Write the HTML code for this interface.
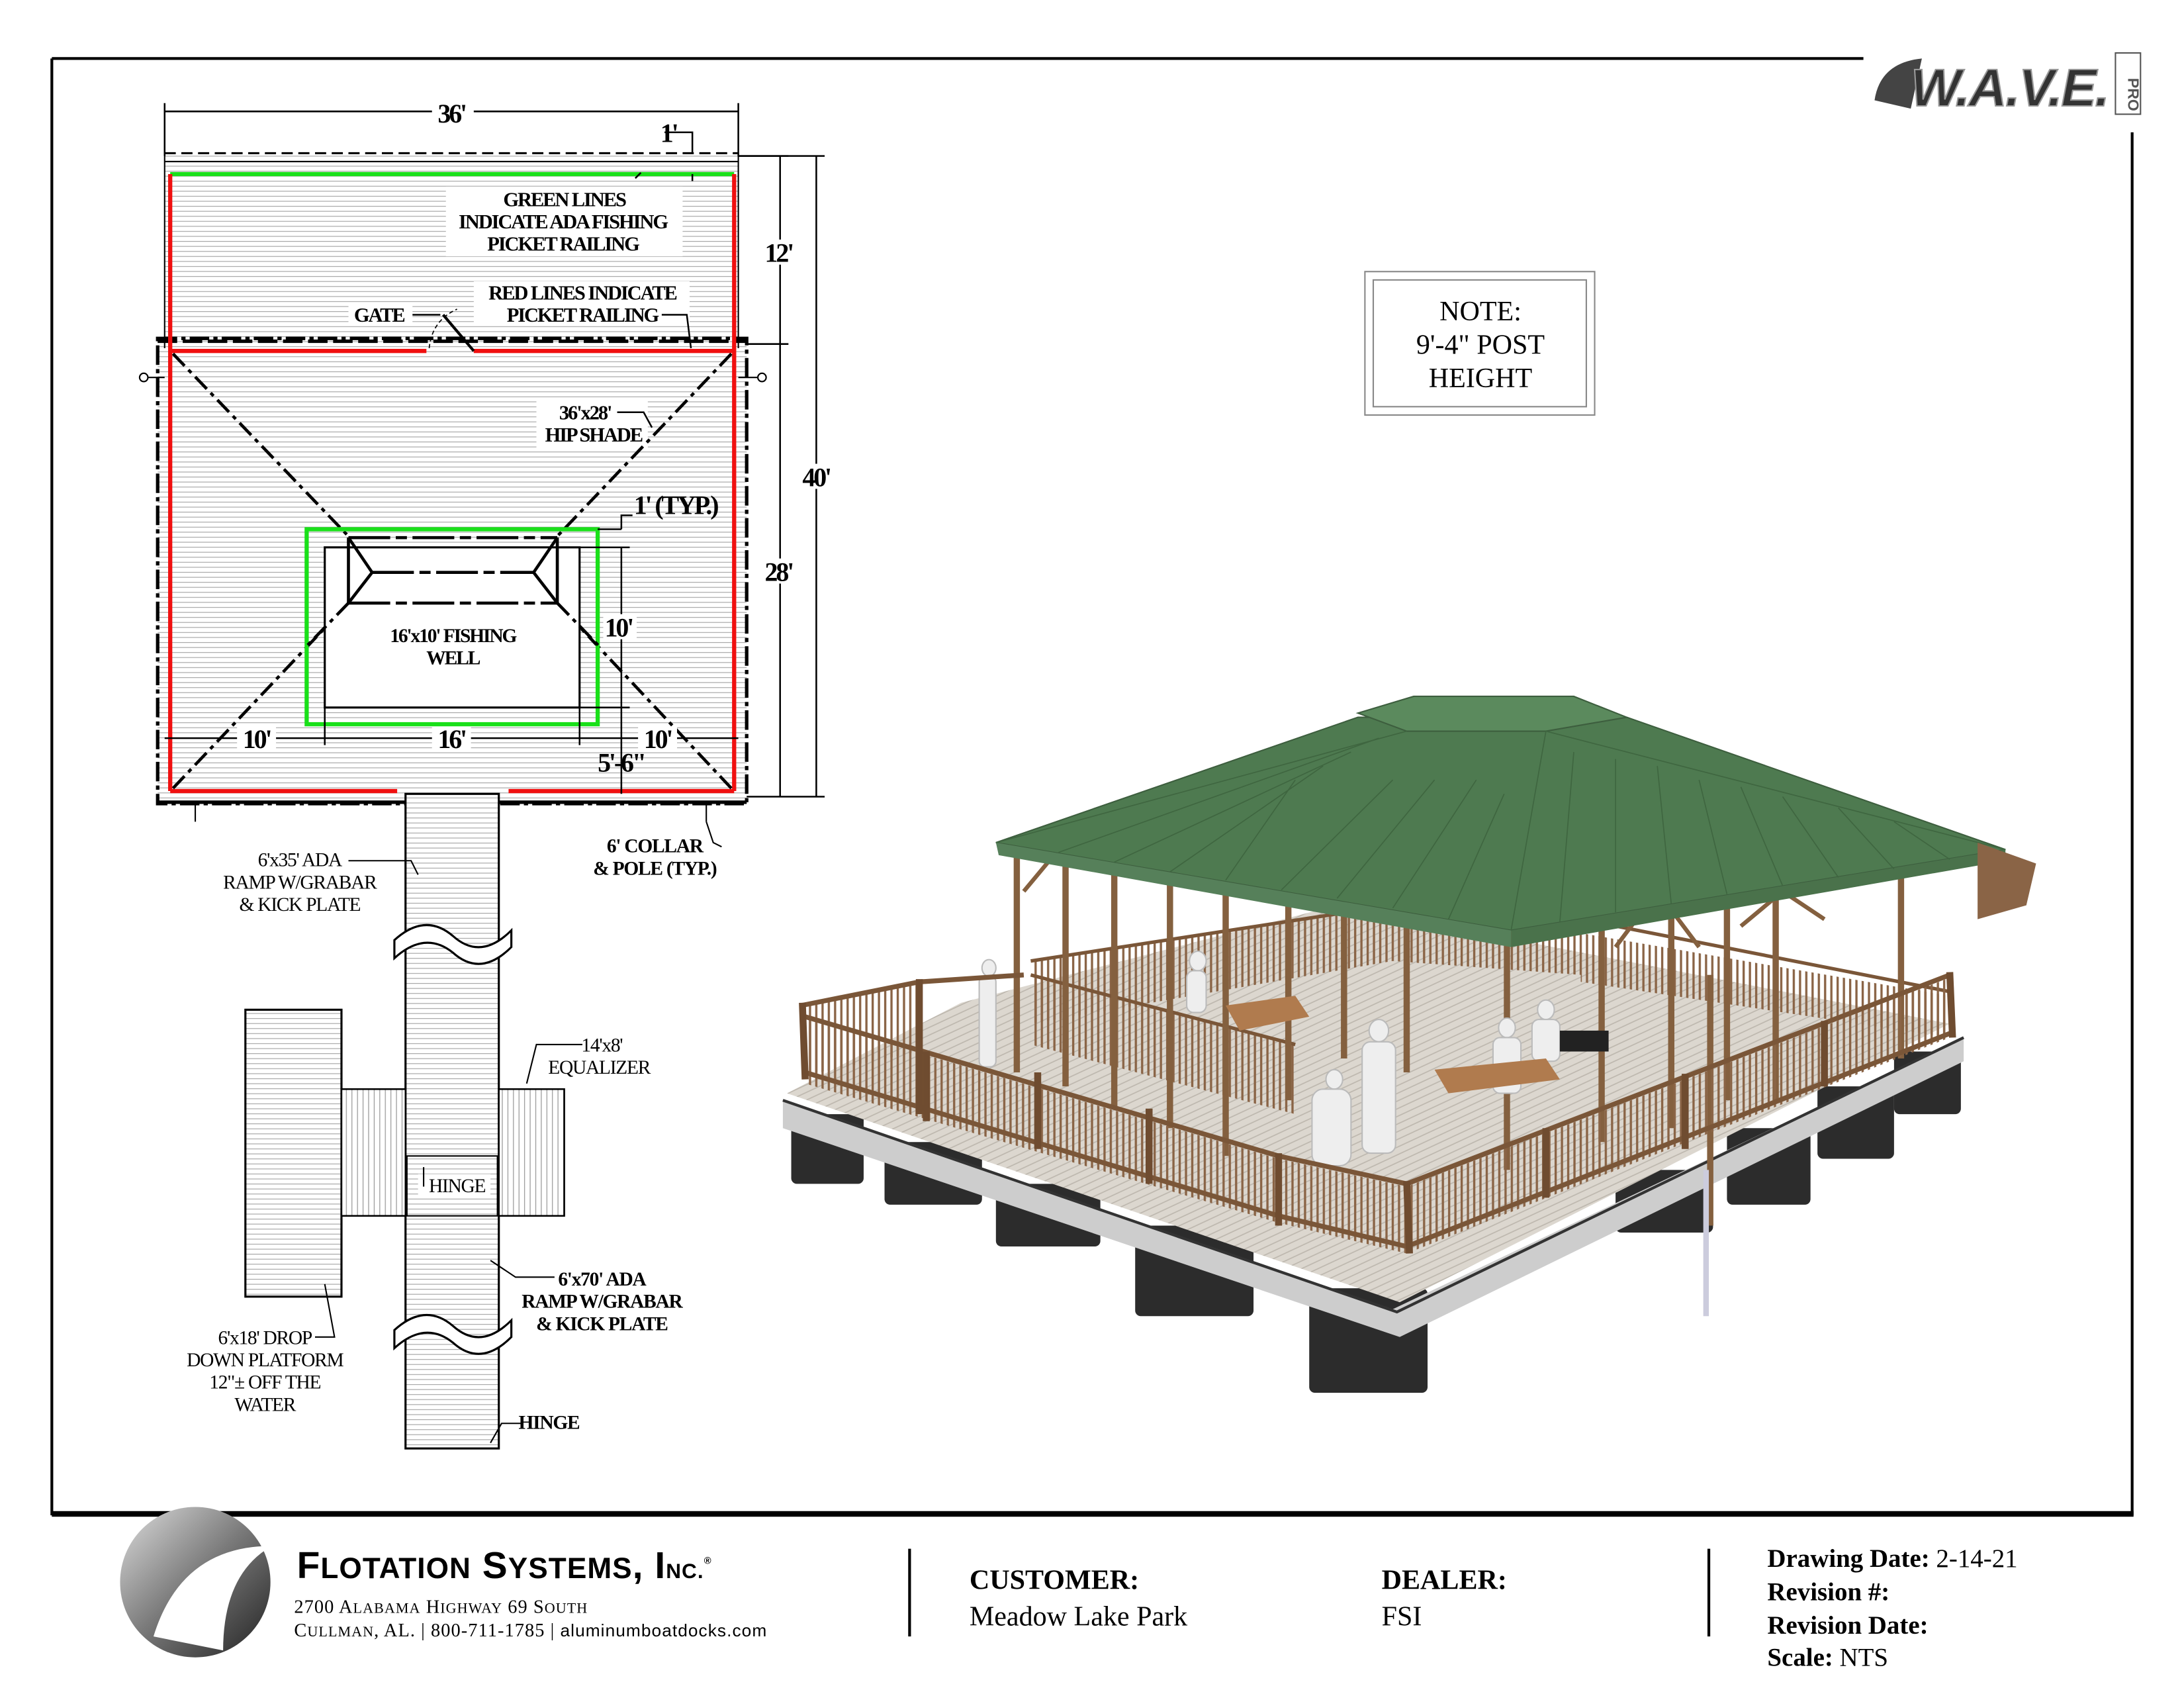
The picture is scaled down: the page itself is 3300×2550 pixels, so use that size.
<!DOCTYPE html>
<html><head><meta charset="utf-8"><style>
html,body{margin:0;padding:0;background:#fff}
svg{display:block}
text{font-family:"Liberation Serif",serif}
.b{font-weight:bold}
</style></head><body>
<svg width="3300" height="2550" viewBox="0 0 1568 1212" xmlns="http://www.w3.org/2000/svg">
<defs>
<pattern id="h" width="8" height="3.6" patternUnits="userSpaceOnUse"><rect width="8" height="3.6" fill="#fff"/><line x1="0" y1="0.5" x2="8" y2="0.5" stroke="#a8a8a8" stroke-width="0.6"/></pattern>
<pattern id="dk" width="8" height="5" patternUnits="userSpaceOnUse" patternTransform="rotate(-25)"><rect width="8" height="5" fill="#dcd7cf"/><line x1="0" y1="0.5" x2="8" y2="0.5" stroke="#bdb7ae" stroke-width="0.8"/></pattern>
<pattern id="vh" width="4" height="8" patternUnits="userSpaceOnUse"><rect width="4" height="8" fill="#fff"/><line x1="0.5" y1="0" x2="0.5" y2="8" stroke="#999" stroke-width="0.6"/></pattern>
<pattern id="rl" width="4.5" height="10" patternUnits="userSpaceOnUse"><line x1="1" y1="0" x2="1" y2="10" stroke="#8a6446" stroke-width="1.6"/></pattern>
<linearGradient id="lg" x1="0" y1="0" x2="1" y2="1"><stop offset="0" stop-color="#ddd"/><stop offset="0.5" stop-color="#777"/><stop offset="1" stop-color="#222"/></linearGradient>
</defs>
<!-- frame -->
<line x1="37" y1="42" x2="1338" y2="42" stroke="#000" stroke-width="2"/>
<line x1="37" y1="42" x2="37" y2="1088" stroke="#000" stroke-width="2"/>
<line x1="1531" y1="95" x2="1531" y2="1088" stroke="#000" stroke-width="2"/>
<line x1="37" y1="1087" x2="1532" y2="1087" stroke="#000" stroke-width="4"/>
<!-- WAVE logo -->
<g>
<path d="M1346 72 Q1350 45 1380 42 L1372 78 Z" fill="#444"/>
<text x="1372" y="76" font-size="38" font-weight="bold" font-style="italic" fill="#333" stroke="#999" stroke-width="1" letter-spacing="-1" style="font-family:'Liberation Sans',sans-serif">W.A.V.E.</text>
<rect x="1519" y="38" width="18" height="44" fill="#fff" stroke="#555" stroke-width="1"/>
<text x="1524" y="60" font-size="11" fill="#555" transform="rotate(90 1528 60)" style="font-family:'Liberation Sans',sans-serif" font-weight="bold">PRO</text>
</g>
<!-- PLAN -->
<rect x="118" y="110" width="412" height="140" fill="url(#h)"/>
<rect x="113" y="243" width="423" height="334" fill="url(#h)"/>
<line x1="118" y1="110" x2="530" y2="110" stroke="#000" stroke-width="1.5" stroke-dasharray="8 4"/>
<line x1="118" y1="116" x2="530" y2="116" stroke="#000" stroke-width="1"/>
<line x1="118" y1="110" x2="118" y2="250" stroke="#000" stroke-width="1"/>
<line x1="530" y1="110" x2="530" y2="250" stroke="#000" stroke-width="1"/>
<rect x="113" y="243" width="423" height="334" fill="none" stroke="#000" stroke-width="2.5" stroke-dasharray="14 3 3 3"/>
<line x1="113" y1="245" x2="536" y2="245" stroke="#000" stroke-width="2.5" stroke-dasharray="14 4"/>
<line x1="113" y1="576" x2="536" y2="576" stroke="#000" stroke-width="2.5"/>
<rect x="320" y="134" width="170" height="50" fill="#fff"/>
<rect x="340" y="202" width="155" height="32" fill="#fff"/>
<rect x="250" y="218" width="46" height="16" fill="#fff"/>
<rect x="385" y="288" width="80" height="34" fill="#fff"/>
<line x1="122" y1="125" x2="527" y2="125" stroke="#19e019" stroke-width="3"/>
<line x1="122" y1="125" x2="122" y2="568" stroke="#f01010" stroke-width="3"/>
<line x1="527" y1="125" x2="527" y2="568" stroke="#f01010" stroke-width="3"/>
<line x1="122" y1="252" x2="306" y2="252" stroke="#f01010" stroke-width="3"/>
<line x1="340" y1="252" x2="527" y2="252" stroke="#f01010" stroke-width="3"/>
<line x1="122" y1="568" x2="285" y2="568" stroke="#f01010" stroke-width="3"/>
<line x1="365" y1="568" x2="527" y2="568" stroke="#f01010" stroke-width="3"/>
<path d="M308 250 Q310 230 328 222" fill="none" stroke="#000" stroke-width="0.8" stroke-dasharray="3 2"/>
<line x1="318" y1="226" x2="340" y2="252" stroke="#000" stroke-width="2"/>
<g stroke="#000" stroke-width="2.2" stroke-dasharray="12 4 3 4" fill="none">
<line x1="124" y1="254" x2="250" y2="385"/>
<line x1="525" y1="254" x2="400" y2="385"/>
<line x1="124" y1="566" x2="250" y2="433"/>
<line x1="525" y1="566" x2="400" y2="433"/>
</g>
<rect x="220" y="380" width="209" height="140" fill="none" stroke="#19e019" stroke-width="3"/>
<rect x="233" y="393" width="183" height="115" fill="#fff" stroke="#000" stroke-width="1.5"/>
<g stroke="#000" stroke-width="2.2" fill="none">
<line x1="250" y1="386" x2="250" y2="433"/><line x1="400" y1="386" x2="400" y2="433"/>
<path d="M250 386 L267 411 L250 433 M400 386 L383 411 L400 433"/>
<line x1="250" y1="386" x2="400" y2="386" stroke-dasharray="30 4 8 4"/>
<line x1="250" y1="433" x2="400" y2="433" stroke-dasharray="30 4 8 4"/>
<line x1="267" y1="411" x2="383" y2="411" stroke-dasharray="30 4 8 4"/>
<line x1="250" y1="433" x2="218" y2="466" stroke-dasharray="12 4 3 4"/>
<line x1="400" y1="433" x2="432" y2="466" stroke-dasharray="12 4 3 4"/>
</g>
<text x="325" y="461" font-size="14" class="b" text-anchor="middle" letter-spacing="-1">16'x10' FISHING</text>
<text x="325" y="477" font-size="14" class="b" text-anchor="middle" letter-spacing="-1">WELL</text>
<g stroke="#000" stroke-width="1.2" fill="none">
<line x1="118" y1="80" x2="530" y2="80"/><line x1="118" y1="74" x2="118" y2="112"/><line x1="530" y1="74" x2="530" y2="112"/>
<line x1="560" y1="112" x2="560" y2="572"/><line x1="530" y1="112" x2="566" y2="112"/><line x1="536" y1="247" x2="566" y2="247"/><line x1="536" y1="572" x2="592" y2="572"/>
<line x1="586" y1="112" x2="586" y2="572"/><line x1="530" y1="112" x2="592" y2="112"/>
<line x1="118" y1="530" x2="530" y2="530"/><line x1="233" y1="508" x2="233" y2="535"/><line x1="416" y1="508" x2="416" y2="535"/>
<line x1="446" y1="393" x2="446" y2="570"/><line x1="416" y1="393" x2="452" y2="393"/><line x1="416" y1="508" x2="452" y2="508"/><line x1="429" y1="380" x2="446" y2="380"/>
<path d="M446 380 L446 370 L454 370"/>
<path d="M477 95 L497 95 L497 110 M497 125 L497 130"/>
<path d="M456 128 L460 124"/>
<path d="M475 226 L493 226 L496 250"/>
<path d="M443 296 L462 296 L468 307"/>
<path d="M296 226 L316 226"/>
</g>
<g font-size="19" class="b" letter-spacing="-1.5">
<rect x="310" y="72" width="30" height="16" fill="#fff"/>
<text x="324" y="88" text-anchor="middle">36'</text>
<text x="474" y="102">1'</text>
<rect x="548" y="172" width="24" height="18" fill="#fff"/><text x="549" y="188">12'</text>
<rect x="548" y="401" width="24" height="18" fill="#fff"/><text x="549" y="417">28'</text>
<rect x="575" y="333" width="24" height="18" fill="#fff"/><text x="576" y="349">40'</text>
<rect x="170" y="522" width="28" height="16" fill="#fff"/><text x="184" y="537" text-anchor="middle">10'</text>
<rect x="310" y="522" width="28" height="16" fill="#fff"/><text x="324" y="537" text-anchor="middle">16'</text>
<rect x="458" y="522" width="28" height="16" fill="#fff"/><text x="472" y="537" text-anchor="middle">10'</text>
<rect x="433" y="441" width="24" height="18" fill="#fff"/><text x="434" y="457">10'</text>
<text x="429" y="554">5'-6"</text>
<text x="455" y="369">1' (TYP.)</text>
</g>
<g font-size="14.5" class="b" text-anchor="middle" letter-spacing="-1">
<text x="405" y="148">GREEN LINES</text>
<text x="404" y="164">INDICATE ADA FISHING</text>
<text x="404" y="180">PICKET RAILING</text>
<text x="418" y="215">RED LINES INDICATE</text>
<text x="418" y="231">PICKET RAILING</text>
<text x="272" y="231">GATE</text>
<text x="420" y="301">36'x28'</text>
<text x="426" y="317">HIP SHADE</text>
</g>
<g stroke="#000" stroke-width="1" fill="none">
<circle cx="103" cy="271" r="3"/><line x1="106" y1="271" x2="118" y2="271"/>
<circle cx="547" cy="271" r="3"/><line x1="530" y1="271" x2="544" y2="271"/>
<line x1="140" y1="578" x2="140" y2="590"/><line x1="507" y1="578" x2="507" y2="590"/>
<path d="M507 590 L512 605 L518 608"/>
</g>
<!-- ramp -->
<rect x="291" y="570" width="67" height="470" fill="url(#h)" stroke="#000" stroke-width="1.5"/>
<g fill="#fff" stroke="#000" stroke-width="1.5">
<path d="M283 675 Q305 655 325 672 Q345 690 367 668 L367 680 Q345 702 325 684 Q305 668 283 688 Z"/>
<path d="M283 955 Q305 935 325 952 Q345 970 367 948 L367 960 Q345 982 325 964 Q305 948 283 968 Z"/>
</g>
<rect x="176" y="725" width="69" height="206" fill="url(#h)" stroke="#000" stroke-width="1.5"/>
<rect x="245" y="782" width="46" height="91" fill="url(#vh)" stroke="#000" stroke-width="1.2"/>
<rect x="358" y="782" width="47" height="91" fill="url(#vh)" stroke="#000" stroke-width="1.2"/>
<rect x="292" y="830" width="65" height="43" fill="url(#h)" stroke="#000" stroke-width="1"/>
<rect x="300" y="843" width="52" height="16" fill="#fff"/>
<g stroke="#000" stroke-width="1" fill="none">
<path d="M250 618 L295 618 L300 628"/>
<path d="M418 750 L385 750 L378 778"/>
<path d="M226 960 L240 960 L233 922"/>
<path d="M398 917 L370 917 L352 905"/>
<path d="M374 1022 L360 1022 L352 1036"/>
<path d="M304 852 L304 838"/>
</g>
<g font-size="14" text-anchor="middle" letter-spacing="-0.6">
<text x="215" y="622">6'x35' ADA</text>
<text x="215" y="638">RAMP W/GRABAR</text>
<text x="215" y="654">&amp; KICK PLATE</text>
<text x="470" y="612" class="b">6' COLLAR</text>
<text x="470" y="628" class="b">&amp; POLE (TYP.)</text>
<text x="432" y="755">14'x8'</text>
<text x="430" y="771">EQUALIZER</text>
<text x="328" y="856">HINGE</text>
<text x="432" y="923" class="b">6'x70' ADA</text>
<text x="432" y="939" class="b">RAMP W/GRABAR</text>
<text x="432" y="955" class="b">&amp; KICK PLATE</text>
<text x="190" y="965">6'x18' DROP</text>
<text x="190" y="981">DOWN PLATFORM</text>
<text x="190" y="997">12"± OFF THE</text>
<text x="190" y="1013">WATER</text>
<text x="394" y="1026" class="b">HINGE</text>
</g>
<!-- NOTE -->
<rect x="980" y="195" width="165" height="103" fill="#fff" stroke="#888" stroke-width="1"/>
<rect x="986" y="201" width="153" height="91" fill="none" stroke="#888" stroke-width="1"/>
<g font-size="20" text-anchor="middle"><text x="1063" y="230">NOTE:</text><text x="1063" y="254">9'-4" POST</text><text x="1063" y="278">HEIGHT</text></g>
<!-- 3D render -->
<g>
<g fill="#2c2c2c">
<rect x="568" y="800" width="52" height="50" rx="4"/>
<rect x="635" y="820" width="70" height="45" rx="4"/>
<rect x="715" y="850" width="75" height="45" rx="4"/>
<rect x="815" y="880" width="85" height="65" rx="4"/>
<rect x="940" y="925" width="85" height="75" rx="4"/>
<rect x="1160" y="840" width="70" height="45" rx="4"/>
<rect x="1240" y="810" width="60" height="55" rx="4"/>
<rect x="1305" y="780" width="55" height="52" rx="4"/>
<rect x="1360" y="755" width="48" height="45" rx="4"/>
</g>
<polygon points="562,790 1000,940 1410,745 1410,762 1005,960 562,810" fill="#cdcdcd"/>
<polygon points="565,785 690,720 960,650 1400,735 1005,935" fill="url(#dk)"/>
<polyline points="562,790 1003,942 1410,745" fill="none" stroke="#333" stroke-width="2"/>
<!-- back/inner railing panels -->
<polygon points="740,690 1000,650 1000,690 740,735" fill="url(#rl)"/>
<polygon points="1000,650 1135,660 1135,700 1000,690" fill="url(#rl)"/>
<polygon points="1135,670 1400,715 1400,745 1135,705" fill="url(#rl)"/>
<polygon points="740,700 930,750 930,800 740,750" fill="url(#rl)"/>
<g stroke="#7a5638" stroke-width="2.5" fill="none">
<polyline points="740,690 1000,650 1135,660 1400,712"/>
<polyline points="740,700 930,750"/>
</g>
<!-- posts -->
<g stroke="#84603f" stroke-width="4.5">
<line x1="730" y1="610" x2="730" y2="770"/><line x1="765" y1="615" x2="765" y2="780"/><line x1="800" y1="625" x2="800" y2="795"/>
<line x1="840" y1="628" x2="840" y2="810"/><line x1="880" y1="632" x2="880" y2="830"/><line x1="925" y1="640" x2="925" y2="790"/>
<line x1="965" y1="645" x2="965" y2="760"/><line x1="1010" y1="650" x2="1010" y2="770"/><line x1="1082" y1="668" x2="1082" y2="840"/>
<line x1="1150" y1="655" x2="1150" y2="820"/><line x1="1200" y1="645" x2="1200" y2="810"/><line x1="1240" y1="638" x2="1240" y2="790"/>
<line x1="1275" y1="632" x2="1275" y2="790"/><line x1="1365" y1="620" x2="1365" y2="760"/>
<line x1="1228" y1="700" x2="1228" y2="880"/>
</g>
<g stroke="#84603f" stroke-width="3" fill="none">
<path d="M735 640 L760 610 M1160 680 L1190 640 L1220 680 M1250 665 L1280 640 L1310 660"/>
</g>
<!-- people -->
<g fill="#eee" stroke="#bbb" stroke-width="1">
<ellipse cx="990" cy="740" rx="7" ry="8"/><rect x="978" y="748" width="24" height="80" rx="6"/>
<ellipse cx="958" cy="775" rx="6" ry="7"/><rect x="942" y="782" width="28" height="55" rx="8"/>
<ellipse cx="860" cy="690" rx="6" ry="7"/><rect x="852" y="697" width="14" height="30" rx="5"/>
<ellipse cx="710" cy="695" rx="5" ry="6"/><rect x="703" y="701" width="12" height="65" rx="4"/>
<ellipse cx="1082" cy="738" rx="6" ry="7"/><rect x="1072" y="745" width="20" height="40" rx="5"/>
<ellipse cx="1110" cy="725" rx="6" ry="7"/><rect x="1100" y="732" width="20" height="30" rx="5"/>
</g>
<polygon points="880,722 930,715 940,730 890,740" fill="#b07b4e"/>
<polygon points="1030,768 1110,760 1120,775 1040,785" fill="#b07b4e"/>
<rect x="1120" y="740" width="35" height="15" fill="#222"/>
<line x1="1225" y1="840" x2="1225" y2="945" stroke="#ccd" stroke-width="4"/>
<!-- front railing panels -->
<polygon points="575,722 660,705 660,755 578,772" fill="url(#rl)"/>
<polygon points="578,732 918,832 918,878 578,778" fill="url(#rl)"/>
<polygon points="1010,852 1400,702 1400,745 1010,900" fill="url(#rl)"/>
<polygon points="918,832 1010,852 1010,900 918,878" fill="url(#rl)"/>
<g stroke="#7a5638" fill="none" stroke-width="3.5">
<polyline points="575,722 660,705 735,700"/>
<polyline points="578,730 918,830 1010,850 1400,700"/>
<polyline points="578,770 918,873 1010,895 1400,742"/>
</g>
<g stroke="#6f4c30" stroke-width="5">
<line x1="576" y1="720" x2="578" y2="775"/><line x1="660" y1="703" x2="660" y2="800"/><line x1="665" y1="755" x2="665" y2="805"/><line x1="745" y1="770" x2="745" y2="825"/><line x1="825" y1="796" x2="825" y2="850"/><line x1="918" y1="828" x2="918" y2="880"/>
<line x1="1010" y1="848" x2="1012" y2="900"/><line x1="1110" y1="810" x2="1110" y2="860"/><line x1="1210" y1="771" x2="1210" y2="825"/><line x1="1310" y1="733" x2="1310" y2="780"/><line x1="1400" y1="698" x2="1402" y2="745"/>
</g>
<!-- roof -->
<polygon points="715,605 975,515 1168,515 1440,610 1085,668" fill="#4e7a50" stroke="#3d5e3e" stroke-width="1"/>
<polygon points="715,605 1085,668 1085,680 717,614" fill="#56805a"/>
<polygon points="1085,668 1440,610 1440,618 1085,680" fill="#4a724b"/>
<polygon points="975,512 1015,500 1130,500 1168,515 1110,525 1010,525" fill="#5b8a5d" stroke="#3d5e3e" stroke-width="1"/>
<g stroke="#3f6640" stroke-width="0.8">
<line x1="1110" y1="525" x2="1085" y2="668"/><line x1="1010" y1="525" x2="715" y2="605"/><line x1="1110" y1="525" x2="1440" y2="610"/>
<path d="M990 530L760 612M970 540L800 619M950 550L840 626M930 560L880 632M1000 560L920 639M1030 560L960 645M1060 560L1000 652M1080 570L1040 660M1130 540L1120 662M1160 545L1160 655M1190 550L1200 649M1220 560L1240 642M1250 565L1280 636M1280 572L1320 630M1320 580L1360 624M1360 590L1400 617"/>
</g>
<polygon points="1420,605 1462,620 1455,650 1420,660" fill="#8a6446"/>
</g>
<!-- footer -->
<circle cx="140" cy="1136" r="54" fill="url(#lg)"/>
<path d="M110 1175 Q130 1110 195 1110 Q160 1130 160 1185 Z" fill="#fff"/>
<text x="213" y="1133" font-size="27" font-weight="bold" style="font-family:'Liberation Sans',sans-serif" letter-spacing="0.5">F<tspan font-size="21">LOTATION</tspan> S<tspan font-size="21">YSTEMS</tspan>, I<tspan font-size="15">NC.</tspan><tspan font-size="7" dy="-10">®</tspan></text>
<text x="211" y="1158" font-size="13.5" letter-spacing="0.5">2700 A<tspan font-size="10.5">LABAMA</tspan> H<tspan font-size="10.5">IGHWAY</tspan> 69 S<tspan font-size="10.5">OUTH</tspan></text>
<text x="211" y="1175" font-size="13.5" letter-spacing="0.5">C<tspan font-size="10.5">ULLMAN</tspan>, AL.  | 800-711-1785 | <tspan style="font-family:'Liberation Sans',sans-serif" font-size="12.5">aluminumboatdocks.com</tspan></text>
<line x1="653" y1="1112" x2="653" y2="1175" stroke="#000" stroke-width="2"/>
<line x1="1227" y1="1112" x2="1227" y2="1175" stroke="#000" stroke-width="2"/>
<text x="696" y="1141" font-size="20" class="b">CUSTOMER:</text>
<text x="696" y="1167" font-size="20">Meadow Lake Park</text>
<text x="992" y="1141" font-size="20" class="b">DEALER:</text>
<text x="992" y="1167" font-size="20">FSI</text>
<g font-size="18.5"><text x="1269" y="1125"><tspan class="b">Drawing Date:</tspan>  2-14-21</text>
<text x="1269" y="1149" class="b">Revision #:</text>
<text x="1269" y="1173" class="b">Revision Date:</text>
<text x="1269" y="1196"><tspan class="b">Scale:</tspan> NTS</text></g>
</svg>
</body></html>
